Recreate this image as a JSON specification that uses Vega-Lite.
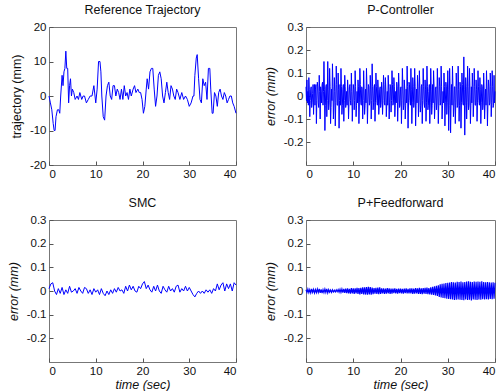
{
"$schema":"https://vega.github.io/schema/vega-lite/v6.json",
"background":"white",
"padding":{"left":6,"top":3,"right":0,"bottom":0},
"spacing":{"row":16,"column":24},
"columns":2,
"config":{
 "view":{"stroke":"#777777","strokeWidth":1},
 "axis":{"domain":false,"grid":false,"tickColor":"#555555","tickSize":-4,"labelPadding":7,"labelFont":"Liberation Sans","labelFontSize":11.5,"labelColor":"#111111","titleFont":"Liberation Sans","titleFontSize":12.5,"titleFontWeight":"normal","titleFontStyle":"italic","titleColor":"#111111","titlePadding":6},
 "title":{"font":"Liberation Sans","fontSize":12.5,"fontWeight":"normal","color":"#111111","offset":5},
 "line":{"color":"#0000ff","strokeWidth":1}
},
"datasets":{
"traj":[{"t":0,"v":0},{"t":0.3,"v":-2},{"t":0.6,"v":-4},{"t":0.9,"v":-8},{"t":1.1,"v":-10},{"t":1.3,"v":-10},{"t":1.5,"v":-6},{"t":1.8,"v":-4},{"t":2.1,"v":-4},{"t":2.3,"v":-5},{"t":2.5,"v":0},{"t":2.8,"v":6},{"t":3.0,"v":3},{"t":3.2,"v":7},{"t":3.4,"v":8},{"t":3.6,"v":13},{"t":3.8,"v":8},{"t":4.0,"v":8},{"t":4.2,"v":-2},{"t":4.4,"v":3},{"t":4.6,"v":5},{"t":4.8,"v":0},{"t":5.0,"v":2},{"t":5.3,"v":1},{"t":5.6,"v":-1},{"t":6.0,"v":0},{"t":6.3,"v":-1},{"t":6.6,"v":1},{"t":7.0,"v":-1},{"t":7.3,"v":0},{"t":7.6,"v":0},{"t":8.0,"v":-2},{"t":8.4,"v":-1},{"t":8.8,"v":0},{"t":9.2,"v":0},{"t":9.6,"v":3},{"t":10.0,"v":-2},{"t":10.3,"v":2},{"t":10.6,"v":10},{"t":10.9,"v":10},{"t":11.1,"v":7},{"t":11.3,"v":0},{"t":11.6,"v":-6},{"t":11.9,"v":-7},{"t":12.2,"v":0},{"t":12.5,"v":3},{"t":12.8,"v":4},{"t":13.1,"v":0},{"t":13.4,"v":-1},{"t":13.7,"v":3},{"t":14.0,"v":3},{"t":14.3,"v":0},{"t":14.6,"v":2},{"t":14.9,"v":1},{"t":15.2,"v":-1},{"t":15.5,"v":2},{"t":15.8,"v":-1},{"t":16.1,"v":3},{"t":16.4,"v":0},{"t":16.7,"v":1},{"t":17.0,"v":-1},{"t":17.3,"v":2},{"t":17.6,"v":0},{"t":18.0,"v":2},{"t":18.3,"v":3},{"t":18.6,"v":1},{"t":19.0,"v":2},{"t":19.3,"v":1},{"t":19.6,"v":1},{"t":19.9,"v":-1},{"t":20.2,"v":-5},{"t":20.5,"v":-3},{"t":20.8,"v":2},{"t":21.0,"v":5},{"t":21.3,"v":2},{"t":21.6,"v":7},{"t":21.9,"v":8},{"t":22.2,"v":8},{"t":22.5,"v":2},{"t":22.8,"v":-3},{"t":23.1,"v":0},{"t":23.4,"v":6},{"t":23.7,"v":7},{"t":24.0,"v":5},{"t":24.3,"v":0},{"t":24.6,"v":-2},{"t":24.9,"v":1},{"t":25.2,"v":4},{"t":25.5,"v":1},{"t":25.8,"v":-1},{"t":26.1,"v":3},{"t":26.4,"v":2},{"t":26.7,"v":0},{"t":27.0,"v":-1},{"t":27.3,"v":2},{"t":27.6,"v":1},{"t":28.0,"v":-1},{"t":28.4,"v":1},{"t":28.8,"v":-1},{"t":29.2,"v":0},{"t":29.6,"v":-1},{"t":30.0,"v":-3},{"t":30.4,"v":-2},{"t":30.8,"v":0},{"t":31.0,"v":0},{"t":31.2,"v":6},{"t":31.5,"v":11},{"t":31.7,"v":12},{"t":32.0,"v":5},{"t":32.3,"v":-1},{"t":32.6,"v":-2},{"t":32.9,"v":5},{"t":33.2,"v":3},{"t":33.5,"v":4},{"t":33.8,"v":-1},{"t":34.1,"v":8},{"t":34.4,"v":8},{"t":34.6,"v":2},{"t":34.9,"v":-5},{"t":35.1,"v":-5},{"t":35.4,"v":1},{"t":35.7,"v":0},{"t":36.0,"v":-3},{"t":36.3,"v":1},{"t":36.6,"v":2},{"t":36.9,"v":0},{"t":37.2,"v":-1},{"t":37.5,"v":1},{"t":37.8,"v":0},{"t":38.1,"v":-2},{"t":38.4,"v":-1},{"t":38.7,"v":0},{"t":39.0,"v":0},{"t":39.3,"v":-2},{"t":39.6,"v":-3},{"t":40,"v":-5}],
"pc":[{"t":0,"v":0.04},{"t":0.1,"v":-0.02},{"t":0.2,"v":0.07},{"t":0.3,"v":-0.03},{"t":0.4,"v":0.02},{"t":0.5,"v":-0.04},{"t":0.6,"v":0.08},{"t":0.7,"v":0.03},{"t":0.8,"v":-0.09},{"t":0.9,"v":-0.02},{"t":1.0,"v":0.03},{"t":1.1,"v":0.04},{"t":1.2,"v":-0.05},{"t":1.3,"v":-0.03},{"t":1.4,"v":0.01},{"t":1.5,"v":0.05},{"t":1.6,"v":-0.08},{"t":1.7,"v":0.01},{"t":1.8,"v":0.05},{"t":1.9,"v":-0.04},{"t":2.0,"v":0.03},
{"t":2.1,"v":0.05},{"t":2.2,"v":-0.12},{"t":2.3,"v":-0.02},{"t":2.4,"v":0.06},{"t":2.5,"v":0.04},{"t":2.6,"v":-0.03},{"t":2.7,"v":-0.05},{"t":2.8,"v":0.09},{"t":2.9,"v":0.02},{"t":3.0,"v":-0.10},{"t":3.1,"v":0.04},{"t":3.2,"v":0.02},{"t":3.3,"v":-0.03},{"t":3.4,"v":0.05},{"t":3.5,"v":0.06},{"t":3.6,"v":-0.04},{"t":3.7,"v":0.02},{"t":3.8,"v":0.15},{"t":3.9,"v":0.03},{"t":4.0,"v":-0.15},
{"t":4.1,"v":-0.04},{"t":4.2,"v":0.04},{"t":4.3,"v":0.05},{"t":4.4,"v":-0.09},{"t":4.5,"v":-0.02},{"t":4.6,"v":0.15},{"t":4.7,"v":0.03},{"t":4.8,"v":-0.06},{"t":4.9,"v":-0.03},{"t":5.0,"v":0.12},{"t":5.1,"v":0.04},{"t":5.2,"v":-0.12},{"t":5.3,"v":-0.05},{"t":5.4,"v":0.03},{"t":5.5,"v":-0.02},{"t":5.6,"v":0.14},{"t":5.7,"v":0.04},{"t":5.8,"v":-0.10},{"t":5.9,"v":-0.03},{"t":6.0,"v":0.08},
{"t":6.1,"v":0.02},{"t":6.2,"v":-0.13},{"t":6.3,"v":-0.03},{"t":6.4,"v":0.13},{"t":6.5,"v":0.05},{"t":6.6,"v":-0.04},{"t":6.7,"v":-0.04},{"t":6.8,"v":0.10},{"t":6.9,"v":0.03},{"t":7.0,"v":-0.14},{"t":7.1,"v":-0.02},{"t":7.2,"v":0.05},{"t":7.3,"v":-0.04},{"t":7.4,"v":0.12},{"t":7.5,"v":0.04},{"t":7.6,"v":-0.08},{"t":7.7,"v":-0.04},{"t":7.8,"v":0.03},{"t":7.9,"v":0.05},{"t":8.0,"v":-0.11},
{"t":8.1,"v":-0.02},{"t":8.2,"v":0.09},{"t":8.3,"v":0.04},{"t":8.4,"v":-0.05},{"t":8.5,"v":-0.03},{"t":8.6,"v":0.02},{"t":8.7,"v":-0.04},{"t":8.8,"v":0.07},{"t":8.9,"v":0.03},{"t":9.0,"v":-0.10},{"t":9.1,"v":-0.03},{"t":9.2,"v":0.04},{"t":9.3,"v":0.05},{"t":9.4,"v":-0.02},{"t":9.5,"v":-0.04},{"t":9.6,"v":0.10},{"t":9.7,"v":0.02},{"t":9.8,"v":-0.11},{"t":9.9,"v":-0.03},{"t":10.0,"v":0.05},
{"t":10.1,"v":0.03},{"t":10.2,"v":-0.06},{"t":10.3,"v":-0.02},{"t":10.4,"v":0.11},{"t":10.5,"v":0.04},{"t":10.6,"v":-0.09},{"t":10.7,"v":-0.04},{"t":10.8,"v":0.02},{"t":10.9,"v":-0.03},{"t":11.0,"v":0.07},{"t":11.1,"v":0.04},{"t":11.2,"v":-0.12},{"t":11.3,"v":-0.03},{"t":11.4,"v":0.12},{"t":11.5,"v":0.05},{"t":11.6,"v":-0.03},{"t":11.7,"v":-0.04},{"t":11.8,"v":0.04},{"t":11.9,"v":0.03},{"t":12.0,"v":-0.10},
{"t":12.1,"v":-0.02},{"t":12.2,"v":0.11},{"t":12.3,"v":0.03},{"t":12.4,"v":-0.08},{"t":12.5,"v":-0.04},{"t":12.6,"v":0.03},{"t":12.7,"v":-0.03},{"t":12.8,"v":0.12},{"t":12.9,"v":0.04},{"t":13.0,"v":-0.12},{"t":13.1,"v":-0.03},{"t":13.2,"v":0.05},{"t":13.3,"v":0.04},{"t":13.4,"v":-0.04},{"t":13.5,"v":-0.03},{"t":13.6,"v":0.09},{"t":13.7,"v":0.03},{"t":13.8,"v":-0.10},{"t":13.9,"v":-0.02},{"t":14.0,"v":0.14},
{"t":14.1,"v":0.04},{"t":14.2,"v":-0.06},{"t":14.3,"v":-0.03},{"t":14.4,"v":0.04},{"t":14.5,"v":0.05},{"t":14.6,"v":-0.11},{"t":14.7,"v":-0.03},{"t":14.8,"v":0.10},{"t":14.9,"v":0.04},{"t":15.0,"v":-0.02},{"t":15.1,"v":-0.04},{"t":15.2,"v":0.07},{"t":15.3,"v":0.03},{"t":15.4,"v":-0.08},{"t":15.5,"v":-0.04},{"t":15.6,"v":0.03},{"t":15.7,"v":0.04},{"t":15.8,"v":-0.05},{"t":15.9,"v":-0.03},{"t":16.0,"v":0.06},
{"t":16.1,"v":0.03},{"t":16.2,"v":-0.08},{"t":16.3,"v":-0.02},{"t":16.4,"v":0.09},{"t":16.5,"v":0.05},{"t":16.6,"v":-0.03},{"t":16.7,"v":-0.04},{"t":16.8,"v":0.08},{"t":16.9,"v":0.03},{"t":17.0,"v":-0.09},{"t":17.1,"v":-0.03},{"t":17.2,"v":0.02},{"t":17.3,"v":-0.04},{"t":17.4,"v":0.09},{"t":17.5,"v":0.03},{"t":17.6,"v":-0.10},{"t":17.7,"v":-0.03},{"t":17.8,"v":0.05},{"t":17.9,"v":0.04},{"t":18.0,"v":-0.07},
{"t":18.1,"v":-0.02},{"t":18.2,"v":0.11},{"t":18.3,"v":0.05},{"t":18.4,"v":-0.04},{"t":18.5,"v":-0.03},{"t":18.6,"v":0.08},{"t":18.7,"v":0.04},{"t":18.8,"v":-0.09},{"t":18.9,"v":-0.04},{"t":19.0,"v":0.02},{"t":19.1,"v":-0.03},{"t":19.2,"v":0.06},{"t":19.3,"v":0.04},{"t":19.4,"v":-0.11},{"t":19.5,"v":-0.03},{"t":19.6,"v":0.10},{"t":19.7,"v":0.04},{"t":19.8,"v":-0.05},{"t":19.9,"v":-0.04},{"t":20.0,"v":0.03},
{"t":20.1,"v":0.04},{"t":20.2,"v":-0.12},{"t":20.3,"v":-0.02},{"t":20.4,"v":0.12},{"t":20.5,"v":0.04},{"t":20.6,"v":-0.06},{"t":20.7,"v":-0.04},{"t":20.8,"v":0.07},{"t":20.9,"v":0.03},{"t":21.0,"v":-0.10},{"t":21.1,"v":-0.04},{"t":21.2,"v":0.03},{"t":21.3,"v":-0.03},{"t":21.4,"v":0.13},{"t":21.5,"v":0.04},{"t":21.6,"v":-0.14},{"t":21.7,"v":-0.03},{"t":21.8,"v":0.06},{"t":21.9,"v":0.05},{"t":22.0,"v":-0.02},
{"t":22.1,"v":-0.04},{"t":22.2,"v":0.12},{"t":22.3,"v":0.03},{"t":22.4,"v":-0.12},{"t":22.5,"v":-0.03},{"t":22.6,"v":0.08},{"t":22.7,"v":0.04},{"t":22.8,"v":-0.05},{"t":22.9,"v":-0.03},{"t":23.0,"v":0.12},{"t":23.1,"v":0.04},{"t":23.2,"v":-0.13},{"t":23.3,"v":-0.04},{"t":23.4,"v":0.03},{"t":23.5,"v":-0.03},{"t":23.6,"v":0.09},{"t":23.7,"v":0.04},{"t":23.8,"v":-0.09},{"t":23.9,"v":-0.03},{"t":24.0,"v":0.11},
{"t":24.1,"v":0.03},{"t":24.2,"v":-0.07},{"t":24.3,"v":-0.04},{"t":24.4,"v":0.04},{"t":24.5,"v":0.05},{"t":24.6,"v":-0.12},{"t":24.7,"v":-0.02},{"t":24.8,"v":0.12},{"t":24.9,"v":0.04},{"t":25.0,"v":-0.03},{"t":25.1,"v":-0.05},{"t":25.2,"v":0.07},{"t":25.3,"v":0.03},{"t":25.4,"v":-0.11},{"t":25.5,"v":-0.03},{"t":25.6,"v":0.13},{"t":25.7,"v":0.04},{"t":25.8,"v":-0.06},{"t":25.9,"v":-0.04},{"t":26.0,"v":0.02},
{"t":26.1,"v":0.05},{"t":26.2,"v":-0.12},{"t":26.3,"v":-0.03},{"t":26.4,"v":0.12},{"t":26.5,"v":0.03},{"t":26.6,"v":-0.08},{"t":26.7,"v":-0.04},{"t":26.8,"v":0.05},{"t":26.9,"v":-0.03},{"t":27.0,"v":0.11},{"t":27.1,"v":0.04},{"t":27.2,"v":-0.10},{"t":27.3,"v":-0.04},{"t":27.4,"v":0.03},{"t":27.5,"v":0.04},{"t":27.6,"v":-0.06},{"t":27.7,"v":-0.03},{"t":27.8,"v":0.12},{"t":27.9,"v":0.03},{"t":28.0,"v":-0.12},
{"t":28.1,"v":-0.04},{"t":28.2,"v":0.08},{"t":28.3,"v":0.04},{"t":28.4,"v":-0.04},{"t":28.5,"v":-0.03},{"t":28.6,"v":0.13},{"t":28.7,"v":0.04},{"t":28.8,"v":-0.10},{"t":28.9,"v":-0.04},{"t":29.0,"v":0.02},{"t":29.1,"v":-0.03},{"t":29.2,"v":0.10},{"t":29.3,"v":0.04},{"t":29.4,"v":-0.13},{"t":29.5,"v":-0.03},{"t":29.6,"v":0.06},{"t":29.7,"v":0.04},{"t":29.8,"v":-0.08},{"t":29.9,"v":-0.03},{"t":30.0,"v":0.11},
{"t":30.1,"v":0.03},{"t":30.2,"v":-0.15},{"t":30.3,"v":-0.04},{"t":30.4,"v":0.12},{"t":30.5,"v":0.03},{"t":30.6,"v":-0.16},{"t":30.7,"v":-0.04},{"t":30.8,"v":0.05},{"t":30.9,"v":-0.04},{"t":31.0,"v":0.13},{"t":31.1,"v":0.04},{"t":31.2,"v":-0.09},{"t":31.3,"v":-0.05},{"t":31.4,"v":0.04},{"t":31.5,"v":0.04},{"t":31.6,"v":-0.12},{"t":31.7,"v":-0.03},{"t":31.8,"v":0.10},{"t":31.9,"v":0.04},{"t":32.0,"v":-0.05},
{"t":32.1,"v":-0.04},{"t":32.2,"v":0.13},{"t":32.3,"v":0.03},{"t":32.4,"v":-0.11},{"t":32.5,"v":-0.04},{"t":32.6,"v":0.06},{"t":32.7,"v":0.04},{"t":32.8,"v":-0.14},{"t":32.9,"v":-0.03},{"t":33.0,"v":0.10},{"t":33.1,"v":0.05},{"t":33.2,"v":-0.03},{"t":33.3,"v":-0.04},{"t":33.4,"v":0.17},{"t":33.5,"v":0.03},{"t":33.6,"v":-0.17},{"t":33.7,"v":-0.04},{"t":33.8,"v":0.08},{"t":33.9,"v":0.04},{"t":34.0,"v":-0.10},
{"t":34.1,"v":-0.03},{"t":34.2,"v":0.13},{"t":34.3,"v":0.04},{"t":34.4,"v":-0.06},{"t":34.5,"v":-0.04},{"t":34.6,"v":0.12},{"t":34.7,"v":0.03},{"t":34.8,"v":-0.12},{"t":34.9,"v":-0.04},{"t":35.0,"v":0.04},{"t":35.1,"v":-0.03},{"t":35.2,"v":0.10},{"t":35.3,"v":0.04},{"t":35.4,"v":-0.09},{"t":35.5,"v":-0.03},{"t":35.6,"v":0.12},{"t":35.7,"v":0.04},{"t":35.8,"v":-0.04},{"t":35.9,"v":-0.04},{"t":36.0,"v":0.07},
{"t":36.1,"v":0.03},{"t":36.2,"v":-0.11},{"t":36.3,"v":-0.03},{"t":36.4,"v":0.11},{"t":36.5,"v":0.04},{"t":36.6,"v":-0.02},{"t":36.7,"v":-0.04},{"t":36.8,"v":0.08},{"t":36.9,"v":0.03},{"t":37.0,"v":-0.12},{"t":37.1,"v":-0.03},{"t":37.2,"v":0.05},{"t":37.3,"v":0.04},{"t":37.4,"v":-0.06},{"t":37.5,"v":-0.04},{"t":37.6,"v":0.10},{"t":37.7,"v":0.03},{"t":37.8,"v":-0.10},{"t":37.9,"v":-0.03},{"t":38.0,"v":0.03},
{"t":38.1,"v":-0.04},{"t":38.2,"v":0.11},{"t":38.3,"v":0.03},{"t":38.4,"v":-0.13},{"t":38.5,"v":-0.04},{"t":38.6,"v":0.07},{"t":38.7,"v":0.04},{"t":38.8,"v":-0.04},{"t":38.9,"v":-0.03},{"t":39.0,"v":0.10},{"t":39.1,"v":0.04},{"t":39.2,"v":-0.09},{"t":39.3,"v":-0.03},{"t":39.4,"v":0.11},{"t":39.5,"v":0.04},{"t":39.6,"v":-0.05},{"t":39.7,"v":-0.04},{"t":39.8,"v":0.09},{"t":39.9,"v":-0.03},{"t":40.0,"v":0.02}],
"smc":[{"t":0,"v":0.01},{"t":0.4,"v":0.03},{"t":0.8,"v":0.035},{"t":1.2,"v":0.0},{"t":1.6,"v":-0.015},{"t":2.0,"v":0.01},{"t":2.4,"v":-0.01},{"t":2.8,"v":0.015},{"t":3.2,"v":-0.015},{"t":3.6,"v":0.005},{"t":4.0,"v":-0.01},{"t":4.4,"v":0.02},{"t":4.8,"v":-0.005},{"t":5.2,"v":0.0},{"t":5.6,"v":0.01},{"t":6.0,"v":-0.01},{"t":6.4,"v":0.015},{"t":6.8,"v":0.0},{"t":7.2,"v":-0.01},{"t":7.6,"v":0.015},{"t":8.0,"v":0.01},{"t":8.4,"v":-0.01},{"t":8.8,"v":0.005},{"t":9.2,"v":-0.015},{"t":9.6,"v":0.01},{"t":10.0,"v":-0.005},{"t":10.4,"v":0.005},{"t":10.8,"v":-0.015},{"t":11.2,"v":0.01},{"t":11.6,"v":-0.01},{"t":12.0,"v":-0.02},{"t":12.4,"v":0.0},{"t":12.8,"v":-0.015},{"t":13.2,"v":0.005},{"t":13.6,"v":-0.01},{"t":14.0,"v":0.01},{"t":14.4,"v":-0.005},{"t":14.8,"v":0.015},{"t":15.2,"v":0.0},{"t":15.6,"v":0.005},{"t":16.0,"v":-0.01},{"t":16.4,"v":0.02},{"t":16.8,"v":0.0},{"t":17.2,"v":0.025},{"t":17.6,"v":0.005},{"t":18.0,"v":0.02},{"t":18.4,"v":0.0},{"t":18.8,"v":-0.005},{"t":19.2,"v":0.02},{"t":19.6,"v":0.01},{"t":20.0,"v":0.03},{"t":20.4,"v":0.04},{"t":20.8,"v":0.01},{"t":21.2,"v":0.025},{"t":21.6,"v":0.005},{"t":22.0,"v":-0.005},{"t":22.4,"v":0.02},{"t":22.8,"v":0.0},{"t":23.2,"v":0.025},{"t":23.6,"v":0.0},{"t":24.0,"v":-0.01},{"t":24.4,"v":0.02},{"t":24.8,"v":0.005},{"t":25.2,"v":-0.005},{"t":25.6,"v":0.02},{"t":26.0,"v":0.0},{"t":26.4,"v":0.01},{"t":26.8,"v":-0.005},{"t":27.2,"v":0.02},{"t":27.6,"v":0.025},{"t":28.0,"v":-0.005},{"t":28.4,"v":0.01},{"t":28.8,"v":0.0},{"t":29.2,"v":0.02},{"t":29.6,"v":0.0},{"t":30.0,"v":0.015},{"t":30.4,"v":0.0},{"t":30.8,"v":-0.015},{"t":31.2,"v":-0.025},{"t":31.6,"v":-0.01},{"t":32.0,"v":0.0},{"t":32.4,"v":-0.01},{"t":32.8,"v":0.0},{"t":33.2,"v":-0.01},{"t":33.6,"v":0.005},{"t":34.0,"v":-0.005},{"t":34.4,"v":0.005},{"t":34.8,"v":-0.01},{"t":35.2,"v":0.01},{"t":35.6,"v":0.0},{"t":36.0,"v":0.03},{"t":36.4,"v":0.005},{"t":36.8,"v":0.025},{"t":37.2,"v":0.035},{"t":37.6,"v":0.0},{"t":38.0,"v":0.03},{"t":38.4,"v":0.01},{"t":38.8,"v":0.03},{"t":39.2,"v":0.0},{"t":39.6,"v":0.035},{"t":40.0,"v":0.025}],
"ff":[{"t":0,"v":0.005},{"t":0.2,"v":-0.006},{"t":0.4,"v":0.008},{"t":0.6,"v":-0.007},{"t":0.8,"v":0.006},{"t":1.0,"v":-0.008},{"t":1.2,"v":0.009},{"t":1.4,"v":-0.006},{"t":1.6,"v":0.007},{"t":1.8,"v":-0.008},{"t":2.0,"v":0.006},
{"t":2.2,"v":-0.007},{"t":2.4,"v":0.008},{"t":2.6,"v":-0.006},{"t":2.8,"v":0.009},{"t":3.0,"v":-0.008},{"t":3.2,"v":0.007},{"t":3.4,"v":-0.009},{"t":3.6,"v":0.006},{"t":3.8,"v":-0.007},{"t":4.0,"v":0.008},
{"t":4.2,"v":-0.006},{"t":4.4,"v":0.009},{"t":4.6,"v":-0.008},{"t":4.8,"v":0.006},{"t":5.0,"v":-0.005},{"t":5.2,"v":0.004},{"t":5.4,"v":-0.006},{"t":5.6,"v":0.005},{"t":5.8,"v":-0.004},{"t":6.0,"v":0.003},
{"t":6.2,"v":-0.004},{"t":6.4,"v":0.005},{"t":6.6,"v":-0.003},{"t":6.8,"v":0.006},{"t":7.0,"v":-0.005},{"t":7.2,"v":0.007},{"t":7.4,"v":-0.006},{"t":7.6,"v":0.008},{"t":7.8,"v":-0.007},{"t":8.0,"v":0.009},
{"t":8.2,"v":-0.008},{"t":8.4,"v":0.010},{"t":8.6,"v":-0.009},{"t":8.8,"v":0.011},{"t":9.0,"v":-0.010},{"t":9.2,"v":0.009},{"t":9.4,"v":-0.011},{"t":9.6,"v":0.012},{"t":9.8,"v":-0.010},{"t":10.0,"v":0.011},
{"t":10.2,"v":-0.012},{"t":10.4,"v":0.011},{"t":10.6,"v":-0.010},{"t":10.8,"v":0.013},{"t":11.0,"v":-0.012},{"t":11.2,"v":0.012},{"t":11.4,"v":-0.014},{"t":11.6,"v":0.013},{"t":11.8,"v":-0.012},{"t":12.0,"v":0.015},
{"t":12.2,"v":-0.014},{"t":12.4,"v":0.016},{"t":12.6,"v":-0.015},{"t":12.8,"v":0.017},{"t":13.0,"v":-0.016},{"t":13.2,"v":0.018},{"t":13.4,"v":-0.015},{"t":13.6,"v":0.017},{"t":13.8,"v":-0.016},{"t":14.0,"v":0.014},
{"t":14.2,"v":-0.013},{"t":14.4,"v":0.012},{"t":14.6,"v":-0.011},{"t":14.8,"v":0.013},{"t":15.0,"v":-0.012},{"t":15.2,"v":0.014},{"t":15.4,"v":-0.013},{"t":15.6,"v":0.015},{"t":15.8,"v":-0.012},{"t":16.0,"v":0.011},
{"t":16.2,"v":-0.010},{"t":16.4,"v":0.011},{"t":16.6,"v":-0.012},{"t":16.8,"v":0.010},{"t":17.0,"v":-0.011},{"t":17.2,"v":0.012},{"t":17.4,"v":-0.010},{"t":17.6,"v":0.011},{"t":17.8,"v":-0.012},{"t":18.0,"v":0.010},
{"t":18.2,"v":-0.011},{"t":18.4,"v":0.010},{"t":18.6,"v":-0.009},{"t":18.8,"v":0.011},{"t":19.0,"v":-0.010},{"t":19.2,"v":0.009},{"t":19.4,"v":-0.011},{"t":19.6,"v":0.010},{"t":19.8,"v":-0.009},{"t":20.0,"v":0.010},
{"t":20.2,"v":-0.010},{"t":20.4,"v":0.009},{"t":20.6,"v":-0.011},{"t":20.8,"v":0.010},{"t":21.0,"v":-0.009},{"t":21.2,"v":0.011},{"t":21.4,"v":-0.010},{"t":21.6,"v":0.009},{"t":21.8,"v":-0.010},{"t":22.0,"v":0.011},
{"t":22.2,"v":-0.010},{"t":22.4,"v":0.011},{"t":22.6,"v":-0.012},{"t":22.8,"v":0.010},{"t":23.0,"v":-0.011},{"t":23.2,"v":0.012},{"t":23.4,"v":-0.010},{"t":23.6,"v":0.011},{"t":23.8,"v":-0.012},{"t":24.0,"v":0.013},
{"t":24.2,"v":-0.012},{"t":24.4,"v":0.011},{"t":24.6,"v":-0.013},{"t":24.8,"v":0.012},{"t":25.0,"v":-0.011},{"t":25.2,"v":0.013},{"t":25.4,"v":-0.012},{"t":25.6,"v":0.014},{"t":25.8,"v":-0.013},{"t":26.0,"v":0.012},
{"t":26.2,"v":-0.014},{"t":26.4,"v":0.015},{"t":26.6,"v":-0.016},{"t":26.8,"v":0.018},{"t":27.0,"v":-0.017},{"t":27.2,"v":0.020},{"t":27.4,"v":-0.019},{"t":27.6,"v":0.022},{"t":27.8,"v":-0.021},{"t":28.0,"v":0.024},
{"t":28.2,"v":-0.025},{"t":28.4,"v":0.028},{"t":28.6,"v":-0.027},{"t":28.8,"v":0.030},{"t":29.0,"v":-0.029},{"t":29.2,"v":0.032},{"t":29.4,"v":-0.031},{"t":29.6,"v":0.034},{"t":29.8,"v":-0.033},{"t":30.0,"v":0.035},
{"t":30.2,"v":-0.034},{"t":30.4,"v":0.036},{"t":30.6,"v":-0.035},{"t":30.8,"v":0.038},{"t":31.0,"v":-0.036},{"t":31.2,"v":0.037},{"t":31.4,"v":-0.038},{"t":31.6,"v":0.036},{"t":31.8,"v":-0.037},{"t":32.0,"v":0.039},
{"t":32.2,"v":-0.036},{"t":32.4,"v":0.038},{"t":32.6,"v":-0.037},{"t":32.8,"v":0.040},{"t":33.0,"v":-0.038},{"t":33.2,"v":0.037},{"t":33.4,"v":-0.039},{"t":33.6,"v":0.038},{"t":33.8,"v":-0.036},{"t":34.0,"v":0.040},
{"t":34.2,"v":-0.038},{"t":34.4,"v":0.041},{"t":34.6,"v":-0.037},{"t":34.8,"v":0.039},{"t":35.0,"v":-0.040},{"t":35.2,"v":0.038},{"t":35.4,"v":-0.036},{"t":35.6,"v":0.040},{"t":35.8,"v":-0.037},{"t":36.0,"v":0.039},
{"t":36.2,"v":-0.038},{"t":36.4,"v":0.040},{"t":36.6,"v":-0.036},{"t":36.8,"v":0.039},{"t":37.0,"v":-0.037},{"t":37.2,"v":0.041},{"t":37.4,"v":-0.035},{"t":37.6,"v":0.038},{"t":37.8,"v":-0.036},{"t":38.0,"v":0.037},
{"t":38.2,"v":-0.035},{"t":38.4,"v":0.038},{"t":38.6,"v":-0.036},{"t":38.8,"v":0.037},{"t":39.0,"v":-0.034},{"t":39.2,"v":0.036},{"t":39.4,"v":-0.035},{"t":39.6,"v":0.037},{"t":39.8,"v":-0.033},{"t":40.0,"v":0.035}]
},
"concat":[
{"width":187,"height":138,"title":"Reference Trajectory","data":{"name":"traj"},"mark":"line",
 "encoding":{"x":{"field":"t","type":"quantitative","scale":{"domain":[0,40],"nice":false},"axis":{"values":[0,10,20,30,40],"title":null}},
 "y":{"field":"v","type":"quantitative","scale":{"domain":[-20,20],"nice":false},"axis":{"values":[-20,-10,0,10,20],"labelExpr":"'' + datum.value","title":"trajectory (mm)","titleFontStyle":"normal"}}}},
{"width":189,"height":138,"title":"P-Controller","data":{"name":"pc"},"mark":"line",
 "encoding":{"x":{"field":"t","type":"quantitative","scale":{"domain":[0,40],"nice":false},"axis":{"values":[0,10,20,30,40],"labelFlush":true,"title":null}},
 "y":{"field":"v","type":"quantitative","scale":{"domain":[-0.3,0.3],"nice":false},"axis":{"values":[-0.2,-0.1,0,0.1,0.2,0.3],"labelExpr":"'' + datum.value","title":"error (mm)"}}}},
{"width":187,"height":142,"title":"SMC","data":{"name":"smc"},"mark":"line",
 "encoding":{"x":{"field":"t","type":"quantitative","scale":{"domain":[0,40],"nice":false},"axis":{"values":[0,10,20,30,40],"title":"time (sec)","titlePadding":2}},
 "y":{"field":"v","type":"quantitative","scale":{"domain":[-0.3,0.3],"nice":false},"axis":{"values":[-0.2,-0.1,0,0.1,0.2,0.3],"labelExpr":"'' + datum.value","title":"error (mm)"}}}},
{"width":189,"height":142,"title":"P+Feedforward","data":{"name":"ff"},"mark":{"type":"line","strokeWidth":1.2},
 "encoding":{"x":{"field":"t","type":"quantitative","scale":{"domain":[0,40],"nice":false},"axis":{"values":[0,10,20,30,40],"labelFlush":true,"title":"time (sec)","titlePadding":2}},
 "y":{"field":"v","type":"quantitative","scale":{"domain":[-0.3,0.3],"nice":false},"axis":{"values":[-0.2,-0.1,0,0.1,0.2,0.3],"labelExpr":"'' + datum.value","title":"error (mm)"}}}}
]
}
